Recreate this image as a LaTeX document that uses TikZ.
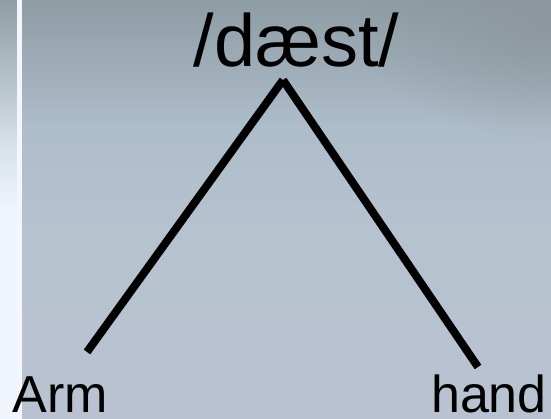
\documentclass[tikz,border=0pt]{standalone}
\usepackage{fontspec}
\setmainfont{Liberation Sans}
\usetikzlibrary{fadings}
\definecolor{cornercol}{RGB}{138,148,152}
\pgfdeclareverticalshading{mainbg}{100bp}{%
  rgb(0bp)=(0.722,0.761,0.816);
  rgb(25bp)=(0.722,0.761,0.816);
  rgb(47bp)=(0.718,0.761,0.812);
  rgb(60bp)=(0.680,0.740,0.790);
  rgb(68bp)=(0.610,0.670,0.710);
  rgb(75bp)=(0.557,0.612,0.639);
  rgb(100bp)=(0.557,0.612,0.639)}
\pgfdeclareverticalshading{stripbg}{100bp}{%
  rgb(0bp)=(0.941,0.957,0.988);
  rgb(50bp)=(0.941,0.957,0.988);
  rgb(57bp)=(0.850,0.890,0.920);
  rgb(75bp)=(0.560,0.620,0.640);
  rgb(100bp)=(0.560,0.620,0.640)}
\tikzfading[name=cornerfade, inner color=transparent!0, outer color=transparent!100]
\tikzset{
  branch/.style={line width=8pt, line cap=butt, black},
  label/.style={anchor=base, inner sep=0pt, text=black}
}
\begin{document}
\begin{tikzpicture}[x=1pt,y=-1pt]
\useasboundingbox (0,0) rectangle (551,419);
% left strip
\shade[shading=stripbg] (0,0) rectangle (17,419);
\fill[white!96!blue] (17,0) rectangle (22,419);
% main background
\shade[shading=mainbg] (22,0) rectangle (551,419);
\fill[cornercol, path fading=cornerfade, fill opacity=0.7] (551,30) ellipse [x radius=190, y radius=110];
% text
\node[label, font=\fontsize{74}{80}\selectfont] (root) at (296.5,67) {/dæst/};
\node[label, font=\fontsize{52}{56}\selectfont] (arm) at (60,412) {Arm};
\node[label, font=\fontsize{52}{56}\selectfont] (hand) at (489,412) {hand};
% connectors
\coordinate (apex) at (283,80);
\coordinate (armend) at (87,352);
\coordinate (handend) at (478,367);
\draw[branch] (apex) -- (armend);
\draw[branch] (apex) -- (handend);
\end{tikzpicture}
\end{document}
